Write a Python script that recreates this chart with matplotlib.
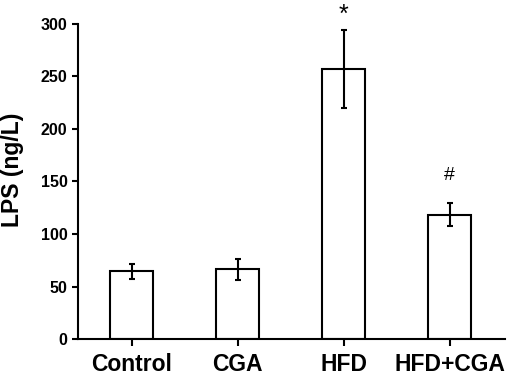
import matplotlib
matplotlib.use("Agg")
import matplotlib.pyplot as plt
import numpy as np

# ── Data ──────────────────────────────────────────────────────────────────────
groups = ["Control", "CGA", "HFD", "HFD+CGA"]
means = [64.5, 66.5, 257, 118.5]
errors = [7, 10, 37.5, 11]
marks = ["", "", "*", "#"]
y_ticks = [0, 50, 100, 150, 200, 250, 300]

plt.rcParams.update({
    "font.family": "Liberation Sans",
    "font.weight": "bold",
})

fig = plt.figure(figsize=(5.12, 3.78), dpi=100)
ax = fig.add_axes([0.152, 0.103, 0.834, 0.834])

x = np.arange(len(groups))
ax.bar(x, means, width=0.405, color="white", edgecolor="black", linewidth=1.5,
       yerr=errors, error_kw=dict(ecolor="black", elinewidth=1.5, capsize=2.5, capthick=1.5))

# significance markers above the error bars
for xi, m, e, s in zip(x, means, errors, marks):
    if s == "*":
        ax.text(xi, m + e + 2.5, s, ha="center", va="bottom", fontsize=18,
                fontweight="normal", clip_on=False)
    elif s:
        ax.text(xi, m + e + 18, s, ha="center", va="bottom", fontsize=14, fontweight="normal")

ax.set_xlim(-0.51, 3.52)
ax.set_ylim(0, 300)
ax.set_yticks(y_ticks)
ax.set_xticks(x)
ax.set_xticklabels(groups, fontsize=16.5, fontweight="bold")
ax.tick_params(axis="y", labelsize=11.5, width=1.5, length=4)
ax.tick_params(axis="x", width=1.5, length=5, pad=5)
ax.set_ylabel("LPS (ng/L)", fontsize=16.5, fontweight="bold")
ax.yaxis.set_label_coords(-0.126, 0.537)

for side in ["top", "right"]:
    ax.spines[side].set_visible(False)
for side in ["left", "bottom"]:
    ax.spines[side].set_linewidth(1.5)

fig.savefig("out.png", dpi=100)
